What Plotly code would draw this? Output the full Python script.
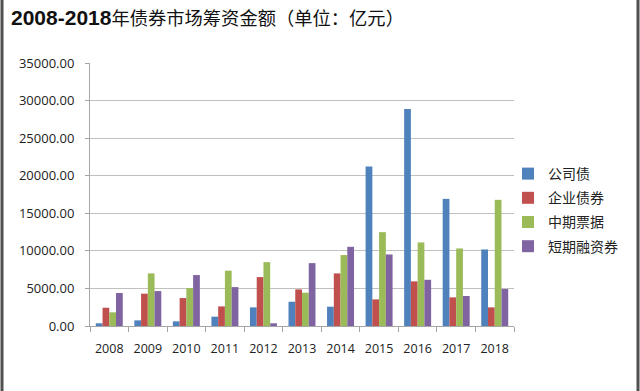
import plotly.graph_objects as go

years = ["2008", "2009", "2010", "2011", "2012", "2013", "2014", "2015", "2016", "2017", "2018"]
corp_bond = [360, 750, 620, 1240, 2480, 3230, 2570, 21230, 28890, 16920, 10190]       # 公司债
ent_bond = [2430, 4300, 3720, 2610, 6510, 4870, 7000, 3540, 5940, 3810, 2480]         # 企业债券
mtn = [1820, 7000, 5050, 7360, 8500, 4430, 9440, 12490, 11120, 10320, 16790]          # 中期票据
cp = [4390, 4650, 6780, 5180, 360, 8370, 10540, 9520, 6150, 3990, 4920]               # 短期融资券

series_names = ["公司债", "企业债券", "中期票据", "短期融资券"]
series_vals = [corp_bond, ent_bond, mtn, cp]
colors = ["#4F81BD", "#C0504D", "#9BBB59", "#8064A2"]

W, H = 640, 391
L, R, T, B = 90, 126, 63, 65

fig = go.Figure()
for i, (name, vals, c) in enumerate(zip(series_names, series_vals, colors)):
    fig.add_trace(go.Bar(x=years, y=vals, name=name, marker=dict(color=c, line=dict(width=0)),
                         legendgroup=f"g{i}"))

pw = W - L - R
ph = H - T - B
def px_to_paper_x(p):
    return (p - L) / pw
def px_to_paper_y(p):
    return (H - B - p) / ph

shapes = []
for xp in (2, 638):
    shapes.append(dict(type="line", xref="paper", yref="paper",
                       x0=px_to_paper_x(xp), x1=px_to_paper_x(xp),
                       y0=px_to_paper_y(0), y1=px_to_paper_y(H),
                       line=dict(color="#505050", width=3)))

fig.update_layout(
    width=W, height=H,
    margin=dict(l=L, r=R, t=T, b=B),
    paper_bgcolor="white", plot_bgcolor="white",
    barmode="group", bargap=0.3, bargroupgap=0,
    title=dict(text="<b><span style='font-size:21px'>2008-2018</span></b>年债券市场筹资金额（单位：亿元）",
               x=11 / W, xanchor="left", xref="container",
               y=1 - 19 / H, yanchor="middle", yref="container",
               pad=dict(l=0, r=0, t=0, b=0),
               font=dict(family="Liberation Sans, Noto Sans CJK SC", size=18.3, color="#111111")),
    font=dict(family="Open Sans, Noto Sans CJK SC", color="#222222"),
    legend=dict(x=px_to_paper_x(508), xanchor="left", y=px_to_paper_y(158), yanchor="top",
                font=dict(family="Noto Sans CJK SC", size=14, color="#222222"),
                bgcolor="rgba(0,0,0,0)", traceorder="grouped", tracegroupgap=3,
                itemwidth=30),
    showlegend=True,
    shapes=shapes,
)
fig.update_xaxes(showline=True, linecolor="#A6A6A6", linewidth=1,
                 ticks="outside", tickson="boundaries", ticklen=5, tickcolor="#A6A6A6",
                 tickangle=0,
                 tickfont=dict(family="Open Sans", size=12.5, color="#222222"),
                 ticklabelstandoff=11, showgrid=False)
fig.update_yaxes(range=[0, 35000], dtick=5000, tickformat=".2f",
                 showline=True, linecolor="#A6A6A6", linewidth=1,
                 ticks="outside", ticklen=4, tickcolor="#A6A6A6",
                 showgrid=True, gridcolor="#C0C0C0", gridwidth=1, zeroline=False,
                 tickfont=dict(family="Open Sans", size=13, color="#222222"),
                 ticklabelstandoff=8)

fig.write_html("out.html", config={"displayModeBar": False},
               post_script="document.body.style.margin='0';document.body.style.overflow='hidden';")
